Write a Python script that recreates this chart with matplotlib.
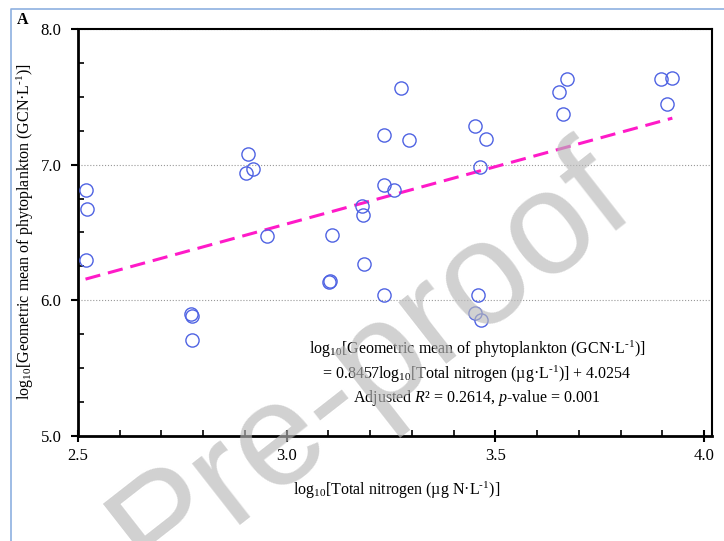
import numpy as np
import matplotlib
matplotlib.use("Agg")
import matplotlib.pyplot as plt
from matplotlib.lines import Line2D
from matplotlib.ticker import MultipleLocator

plt.rcParams["font.family"] = ["Liberation Serif", "DejaVu Serif"]
plt.rcParams["mathtext.fontset"] = "custom"
plt.rcParams["mathtext.rm"] = "Liberation Serif"
plt.rcParams["mathtext.it"] = "Liberation Serif:italic"

# log10 total nitrogen vs log10 geometric mean of phytoplankton
tn = [2.518, 2.522, 2.520, 2.770, 2.773, 2.774, 2.907, 2.903, 2.919, 2.954,
      3.109, 3.104, 3.102, 3.186, 3.181, 3.184, 3.233, 3.233, 3.233, 3.257,
      3.274, 3.293, 3.452, 3.478, 3.464, 3.459, 3.452, 3.466, 3.652, 3.671,
      3.661, 3.898, 3.924, 3.911]
gm = [6.816, 6.674, 6.295, 5.895, 5.885, 5.703, 7.081, 6.940, 6.968, 6.472,
      6.479, 6.140, 6.133, 6.265, 6.698, 6.629, 7.219, 6.853, 6.035, 6.810,
      7.570, 7.179, 7.287, 7.189, 6.980, 6.037, 5.907, 5.853, 7.540, 7.632,
      7.374, 7.632, 7.643, 7.450]

slope = 0.8457
intercept = 4.0254

inv = r"$^{\text{-1}}$"

fig = plt.figure(figsize=(7.24, 5.41), dpi=100)
ax = fig.add_axes([78/724, 1 - 435.5/541, 634/724, 406.2/541])

# nuage de points
ax.plot(tn, gm, "o", ms=9.5, mfc="none", mec="#4F63E3", mew=1.0, zorder=3)

# droite de regression
xf = np.array([min(tn), max(tn)])
ax.plot(xf, slope * xf + intercept, color="#FF1AC8", lw=2.2,
        dashes=(5, 2.6), zorder=2)

ax.set_xlim(2.5, 4.019)
ax.set_ylim(5.0, 8.0)
ax.xaxis.set_major_locator(MultipleLocator(0.5))
ax.xaxis.set_minor_locator(MultipleLocator(0.1))
ax.yaxis.set_major_locator(MultipleLocator(1.0))
ax.yaxis.set_minor_locator(MultipleLocator(0.25))
ax.xaxis.set_major_formatter(lambda v, p: f"{v:.1f}")
ax.yaxis.set_major_formatter(lambda v, p: f"{v:.1f}")

ax.tick_params(axis="x", which="major", direction="inout", length=8, width=1.5,
               labelsize=12, pad=5)
ax.tick_params(axis="x", which="minor", direction="in", length=4, width=1.2)
ax.tick_params(axis="y", which="major", direction="out", length=5, width=1.5,
               labelsize=12, pad=7)
ax.tick_params(axis="y", which="minor", direction="in", length=4, width=1.2)

for s in ax.spines.values():
    s.set_linewidth(1.5)
ax.spines["left"].set_linewidth(2)
ax.spines["bottom"].set_linewidth(2)

ax.grid(axis="y", which="major", color="#999999", ls=":", lw=0.8)
ax.set_axisbelow(True)

fig.text(25/724, 1 - 232/541,
         "log$_{10}$[Geometric mean of phytoplankton (GCN\u00b7L" + inv + ")]",
         rotation=90, ha="center", va="center", fontsize=11.5)
fig.text(397/724, 1 - 490/541, "log$_{10}$[Total nitrogen (\u00b5g N\u00b7L" + inv + ")]",
         ha="center", va="center", fontsize=11.5)

fig.text(477/724, 1 - 373.5/541,
         "log$_{10}$[Geometric mean of phytoplankton (GCN\u00b7L" + inv + ")]\n"
         "= 0.8457log$_{10}$[Total nitrogen (\u00b5g\u00b7L" + inv + ")] + 4.0254\n"
         "Adjusted $R$\u00b2 = 0.2614, $p$-value = 0.001",
         ha="center", va="center", multialignment="center", fontsize=11.5,
         linespacing=1.25)

fig.text(23/724, 1 - 19.5/541, "A", fontsize=11.5, fontweight="bold",
         ha="center", va="center")

# cadre bleu autour de la figure
fig.add_artist(Line2D([11/724, 11/724, 1.0], [0.0, 1 - 9/541, 1 - 9/541],
                      transform=fig.transFigure, color="#8EB0E0", lw=1.2))

# filigrane
fig.text(372/724, 1 - 365/541, "Pre-proof", fontsize=106, rotation=38,
         family="Liberation Sans", color="#B8B8B8", alpha=0.65,
         ha="center", va="center", zorder=10)

fig.savefig("out.png", dpi=100)
